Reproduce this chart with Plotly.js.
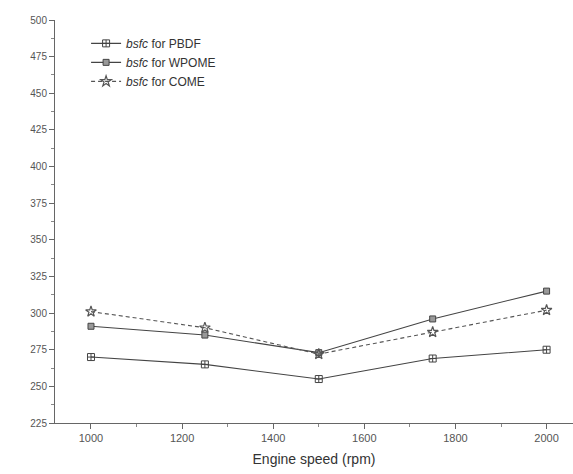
<!DOCTYPE html>
<html><head><meta charset="utf-8">
<script src="https://cdn.plot.ly/plotly-3.0.1.min.js"></script>
<style>html,body{margin:0;padding:0;background:#fff}#chart{width:573px;height:474px}</style>
</head><body><div id="chart"></div>
<script>
const speeds = [1000, 1250, 1500, 1750, 2000];
const bsfcPBDF = [270, 265, 255, 269, 275];
const bsfcWPOME = [291, 285, 273, 296, 315];
const bsfcCOME = [301, 290, 272, 287, 302];
const seriesNames = ['<i>bsfc</i> for PBDF', '<i>bsfc</i> for WPOME', '<i>bsfc</i> for COME'];

const lineCol = '#444';
const traces = [
  {x: speeds, y: bsfcPBDF, name: seriesNames[0], mode: 'lines+markers',
   line: {color: lineCol, width: 1.1},
   marker: {symbol: 'square-cross-open', size: 7, color: lineCol, line: {width: 1, color: lineCol}}},
  {x: speeds, y: bsfcWPOME, name: seriesNames[1], mode: 'lines+markers',
   line: {color: lineCol, width: 1.1},
   marker: {symbol: 'square', size: 6, color: '#999', line: {width: 1, color: lineCol}}},
  {x: speeds, y: bsfcCOME, name: seriesNames[2], mode: 'lines+markers',
   line: {color: '#555', width: 1.1, dash: '4px,3px'},
   marker: {symbol: 'star-open', size: 8, color: '#555', line: {width: 1.2, color: lineCol}}}
];

const layout = {
  width: 573, height: 474,
  margin: {l: 55, r: 0, t: 20, b: 51},
  paper_bgcolor: '#fff', plot_bgcolor: '#fff',
  font: {family: 'Liberation Sans, Arial, sans-serif', color: '#444', size: 11},
  showlegend: true,
  legend: {x: 0.06, y: 0.978, xanchor: 'left', yanchor: 'top', bgcolor: 'rgba(0,0,0,0)',
           font: {size: 12, color: '#333'}, tracegroupgap: 0, itemwidth: 30},
  xaxis: {
    range: [921, 2058], tickvals: [1000,1200,1400,1600,1800,2000],
    showgrid: false, zeroline: false, showline: true, linecolor: '#666', linewidth: 1,
    ticks: 'outside', ticklen: 5, tickcolor: '#666',
    minor: {dtick: 100, ticks: 'outside', ticklen: 3, tickcolor: '#888'},
    tickfont: {size: 11, color: '#555'},
    title: {text: 'Engine speed (rpm)', font: {size: 14, color: '#333'}, standoff: 10}
  },
  yaxis: {
    range: [225, 500], dtick: 25, tick0: 225,
    showgrid: false, zeroline: false, showline: true, linecolor: '#666', linewidth: 1,
    ticks: 'outside', ticklen: 5, tickcolor: '#666',
    minor: {dtick: 12.5, ticks: 'outside', ticklen: 3, tickcolor: '#888'},
    tickfont: {size: 10, color: '#555'}
  }
};
Plotly.newPlot('chart', traces, layout, {displayModeBar: false, staticPlot: true});
</script></body></html>
